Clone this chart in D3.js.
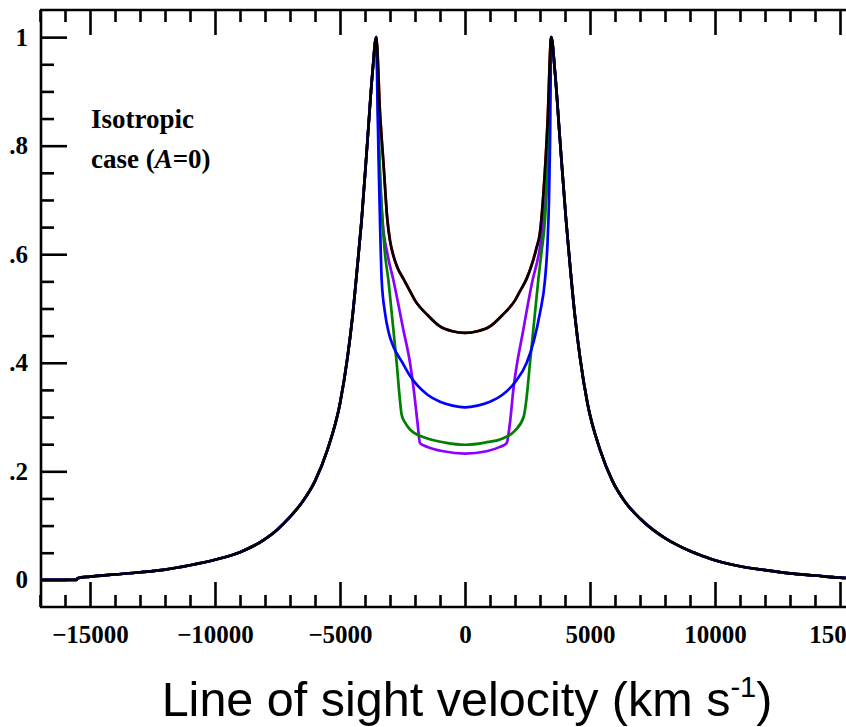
<!DOCTYPE html>
<html lang="en">
<head>
<meta charset="UTF-8">
<title>line profiles</title>
<script src="https://cdn.jsdelivr.net/npm/d3@7"></script>
<style>
  body{margin:0;background:#fff;}
  svg{display:block;overflow:hidden;}
  .axis path,.axis line{stroke:#000;stroke-width:2.6;}
  .axis text{font-family:"Liberation Serif","Times New Roman",serif;font-weight:bold;font-size:25px;fill:#000;}
  .note{font-family:"Liberation Serif","Times New Roman",serif;font-weight:bold;font-size:27px;}
  .title{font-family:"Liberation Sans",Arial,sans-serif;font-size:48.5px;}
  .curve{fill:none;stroke-width:2.7;stroke-linejoin:round;}
</style>
</head>
<body>
<svg class="chart"></svg>
<script>
// outer wings, shared by every case (velocity km/s, normalised flux)
const leftWingV  = [-17000,-15550,-15500,-15000,-14000,-13000,-12000,-11000,-10000,-9000,-8000,-7500,-7000,-6500,-6000,-5500,-5000,-4700,-4500,-4300,-4133,-3900,-3700,-3550];
const leftWingF  = [0,0,0.003,0.006,0.010,0.014,0.019,0.027,0.037,0.051,0.075,0.093,0.116,0.144,0.182,0.240,0.325,0.41,0.485,0.58,0.664,0.81,0.935,1.0];
const rightWingV = [3450,3600,3800,4040,4200,4400,4600,4900,5400,5900,6400,7000,7500,8000,8500,9000,9500,10000,11000,12000,13000,14000,15000,16000,17000];
const rightWingF = [1.0,0.935,0.81,0.664,0.58,0.485,0.41,0.325,0.240,0.182,0.144,0.113,0.093,0.077,0.064,0.053,0.044,0.036,0.025,0.018,0.012,0.008,0.004,0.002,0];

// inner part between the two horns, one pair of arrays per case
const blackV  = [-3400,-3250,-3107,-3000,-2850,-2700,-2467,-2200,-2000,-1500,-1000,-500,0,500,1000,1500,2000,2200,2467,2700,2850,3000,3150,3300];
const blackF  = [0.86,0.76,0.664,0.625,0.595,0.575,0.555,0.532,0.515,0.488,0.467,0.458,0.455,0.458,0.467,0.488,0.515,0.532,0.555,0.585,0.61,0.64,0.72,0.84];
const redV    = blackV;
const redF    = blackF;
const blueV   = [-3500,-3450,-3400,-3333,-3200,-3050,-2867,-2500,-2200,-1500,-1000,-500,0,500,1000,1500,2000,2467,2750,3000,3200,3300,3360,3400];
const blueF   = [0.88,0.76,0.66,0.553,0.492,0.455,0.430,0.400,0.376,0.341,0.328,0.321,0.318,0.321,0.328,0.341,0.364,0.400,0.44,0.492,0.553,0.62,0.70,0.80];
const greenV  = [-3450,-3307,-3200,-3067,-2933,-2733,-2600,-2533,-2400,-2200,-1533,-800,0,800,1533,2000,2350,2450,2600,2800,2933,3050,3200,3350];
const greenF  = [0.82,0.664,0.60,0.553,0.492,0.40,0.33,0.304,0.29,0.277,0.261,0.253,0.249,0.253,0.261,0.275,0.301,0.33,0.40,0.492,0.553,0.60,0.664,0.82];
const purpleV = [-3450,-3300,-3100,-2867,-2467,-2200,-2067,-1900,-1800,-1500,-867,0,867,1400,1667,1800,1933,2333,2707,2950,3150,3350];
const purpleF = [0.80,0.664,0.60,0.553,0.461,0.40,0.357,0.29,0.252,0.245,0.237,0.2325,0.237,0.245,0.252,0.29,0.350,0.461,0.553,0.60,0.664,0.80];

const xMajor = [-15000,-10000,-5000,0,5000,10000,15000];
const xLabels = ['\u221215000','\u221210000','\u22125000','0','5000','10000','15000'];
const yMajor = [0,0.2,0.4,0.6,0.8,1];
const yLabels = ['0','.2','.4','.6','.8','1'];

const series = [
  {name:'red',    color:'#ff0000', v:redV,    f:redF},
  {name:'purple', color:'#8b00ff', v:purpleV, f:purpleF},
  {name:'green',  color:'#008000', v:greenV,  f:greenF},
  {name:'blue',   color:'#0000ff', v:blueV,   f:blueF},
  {name:'black',  color:'#000000', v:blackV,  f:blackF}
];

const W = 846, H = 727;
const svg = d3.select('.chart').attr('width',W).attr('height',H);

let x = d3.scaleLinear().domain([-17000,17000]).range([40,890]);
let y = d3.scaleLinear().domain([-0.05,1.05]).range([607,10]);

function points(s){
  let pts = leftWingV.map((v,i)=>[v,leftWingF[i]]);
  s.v.forEach((v,i)=>pts.push([v,s.f[i]]));
  rightWingV.forEach((v,i)=>pts.push([v,rightWingF[i]]));
  return pts;
}

let line = d3.line()
  .x(d=>x(d[0]))
  .y(d=>y(d[1]))
  .curve(d3.curveMonotoneX);

let minorX = d3.range(-17000,17001,1000).filter(v=>v%5000!==0);
let minorY = d3.range(0,21).map(i=>i*0.05).filter(v=>Math.abs(v*5-Math.round(v*5))>1e-6);

// frame
svg.append('g').attr('class','axis')
  .call(g=>{
    g.append('line').attr('x1',40).attr('x2',900).attr('y1',10).attr('y2',10);
    g.append('line').attr('x1',40).attr('x2',900).attr('y1',607).attr('y2',607);
    g.append('line').attr('x1',41).attr('x2',41).attr('y1',10).attr('y2',607);
  });

// bottom axis
svg.append('g').attr('class','axis').attr('transform','translate(0,607)')
  .call(d3.axisBottom(x).tickValues(minorX).tickFormat('').tickSize(-12).tickSizeOuter(0))
  .call(g=>g.select('.domain').remove());
svg.append('g').attr('class','axis axis--x').attr('transform','translate(0,607)')
  .call(d3.axisBottom(x).tickValues(xMajor).tickFormat((d,i)=>xLabels[i]).tickSize(-25).tickPadding(18).tickSizeOuter(0))
  .call(g=>g.select('.domain').remove())
  .call(g=>g.attr('font-family',null).attr('font-size',null));

// top axis
svg.append('g').attr('class','axis').attr('transform','translate(0,10)')
  .call(d3.axisTop(x).tickValues(minorX).tickFormat('').tickSize(-12).tickSizeOuter(0))
  .call(g=>g.select('.domain').remove());
svg.append('g').attr('class','axis').attr('transform','translate(0,10)')
  .call(d3.axisTop(x).tickValues(xMajor).tickFormat('').tickSize(-25).tickSizeOuter(0))
  .call(g=>g.select('.domain').remove());

// left axis
svg.append('g').attr('class','axis').attr('transform','translate(41,0)')
  .call(d3.axisLeft(y).tickValues(minorY).tickFormat('').tickSize(-13).tickSizeOuter(0))
  .call(g=>g.select('.domain').remove());
svg.append('g').attr('class','axis axis--y').attr('transform','translate(41,0)')
  .call(d3.axisLeft(y).tickValues(yMajor).tickFormat((d,i)=>yLabels[i]).tickSize(-26).tickPadding(13).tickSizeOuter(0))
  .call(g=>g.select('.domain').remove())
  .call(g=>g.attr('font-family',null).attr('font-size',null));

// curves
svg.append('g').selectAll('path')
  .data(series).enter()
  .append('path')
  .attr('class','curve')
  .attr('stroke',d=>d.color)
  .attr('d',d=>line(points(d)));

// annotation
svg.append('text').attr('class','note').attr('x',91).attr('y',128).text('Isotropic');
let t2 = svg.append('text').attr('class','note').attr('x',91).attr('y',168);
t2.append('tspan').text('case (');
t2.append('tspan').attr('font-style','italic').text('A');
t2.append('tspan').text('=0)');

// x title
let tt = svg.append('text').attr('class','title').attr('x',467).attr('y',716).attr('text-anchor','middle');
tt.append('tspan').text('Line of sight velocity (km s');
tt.append('tspan').attr('font-size','29px').attr('dy','-19').text('-1');
tt.append('tspan').attr('dy','19').text(')');
</script>
</body>
</html>
